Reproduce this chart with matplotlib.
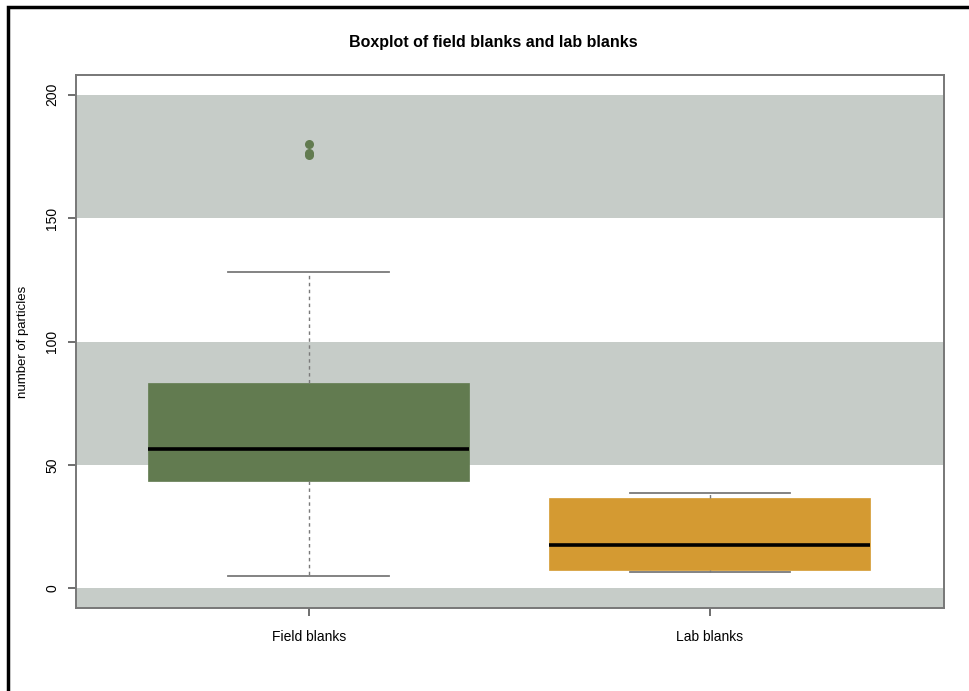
import matplotlib
matplotlib.use("Agg")
import matplotlib.pyplot as plt
from matplotlib.patches import Rectangle

plt.rcParams['font.family'] = ['Liberation Sans', 'DejaVu Sans']

# Boxplot summary statistics read per group
groups = ["Field blanks", "Lab blanks"]
whislo = [5, 6.5]
q1 = [43.3, 7.3]
med = [56.3, 17.4]
q3 = [83, 36.4]
whishi = [128.3, 38.5]
fliers = [[175.5, 176.2, 180.2], []]
colors = ["#627B50", "#D49A32"]

# Background bands
bands = [(-50, 0), (50, 100), (150, 200)]
band_color = "#C6CCC8"

W, H = 969, 691
fig = plt.figure(figsize=(W / 100, H / 100), dpi=100)
ax = fig.add_axes([76 / W, 1 - 608 / H, (944 - 76) / W, (608 - 75) / H])

for lo, hi in bands:
    ax.axhspan(lo, hi, color=band_color, lw=0, zorder=0)

stats = []
for i, g in enumerate(groups):
    stats.append(dict(label=g, whislo=whislo[i], q1=q1[i], med=med[i],
                      q3=q3[i], whishi=whishi[i], fliers=fliers[i]))

bp = ax.bxp(stats, positions=[1, 2], widths=0.8, patch_artist=True,
            showfliers=True, capwidths=0.4,
            medianprops=dict(color="black", lw=2.6),
            whiskerprops=dict(color="#7a7a7a", lw=1, linestyle=(0, (2.5, 2.5))),
            capprops=dict(color="#7a7a7a", lw=1.3),
            flierprops=dict(marker="o", markersize=6.5, markeredgewidth=0,
                            linestyle="none"))
for box, c in zip(bp["boxes"], colors):
    box.set_facecolor(c)
    box.set_edgecolor(c)
    box.set_linewidth(0.5)
    box.set_zorder(2)
for fl, c in zip(bp["fliers"], colors):
    fl.set_markerfacecolor(c)
for m in bp["medians"]:
    m.set_zorder(3)

ax.set_xlim(0.42, 2.584)
ax.set_ylim(-8, 208)
ax.set_yticks([0, 50, 100, 150, 200])
ax.set_yticklabels(["0", "50", "100", "150", "200"], rotation=90, va="center")
ax.set_xticks([1, 2])
ax.set_xticklabels(groups)
ax.tick_params(axis="both", colors="#555555", labelcolor="black", labelsize=10,
               length=6, width=1.2)
ax.tick_params(axis="x", pad=10)
ax.tick_params(axis="y", pad=6)
for s in ax.spines.values():
    s.set_color("#777777")
    s.set_linewidth(1.4)

ax.set_ylabel("number of particles", fontsize=9.5, labelpad=12)
fig.text(493 / W, 1 - 43 / H, "Boxplot of field blanks and lab blanks",
         ha="center", va="center", fontsize=11.5, fontweight="bold")

# Outer frame running off the right and bottom edges
fig.add_artist(Rectangle((8 / W, -0.5), 2, 1.5 - 7 / H,
                         transform=fig.transFigure, fill=False,
                         edgecolor="black", lw=2.5, clip_on=False))

fig.savefig("out.png", dpi=100)
